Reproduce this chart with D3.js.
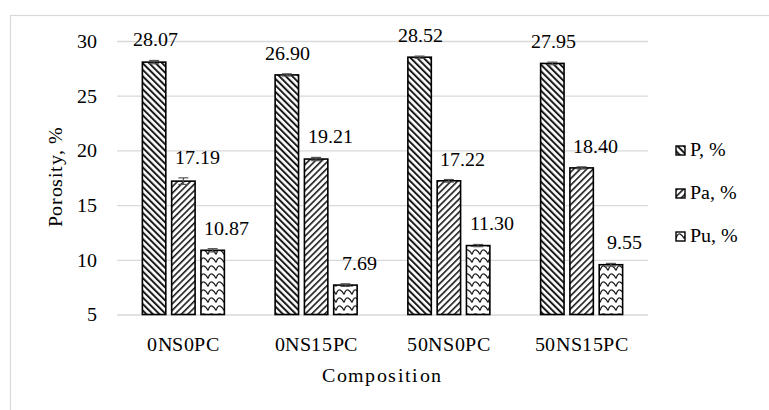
<!DOCTYPE html>
<html><head><meta charset="utf-8">
<script src="https://cdn.jsdelivr.net/npm/d3@7"></script>
<style>
@font-face { font-family: "ChartSerif"; src: local("Liberation Serif"), local("LiberationSerif"), local("LiberationSerif-Regular"), local("Tinos"), local("FreeSerif"); }
</style>
</head><body>
<script>
const categories = ["0NS0PC", "0NS15PC", "50NS0PC", "50NS15PC"];
const seriesNames = ["P, %", "Pa, %", "Pu, %"];
const pValues = [28.07, 26.90, 28.52, 27.95];
const paValues = [17.19, 19.21, 17.22, 18.40];
const puValues = [10.87, 7.69, 11.30, 9.55];
const pErr = [0.15, 0.1, 0.1, 0.12];
const paErr = [0.3, 0.15, 0.12, 0.1];
const puErr = [0.15, 0.12, 0.1, 0.12];
const yTicks = [5, 10, 15, 20, 25, 30];

const W = 769, H = 410;
const FAM = '"ChartSerif", "Liberation Serif", Tinos, FreeSerif, "Times New Roman", serif';
d3.select("body").style("margin", "0px");
const svg = d3.select("body").append("svg").attr("width", W).attr("height", H).style("display", "block")
  .attr("font-family", FAM).style("font-family", FAM);
const defs = svg.append("defs");

// patterns
const p1 = defs.append("pattern").attr("id","patP").attr("patternUnits","userSpaceOnUse")
  .attr("width",4.6).attr("height",10).attr("patternTransform","rotate(-45)");
p1.append("rect").attr("width",4.6).attr("height",10).attr("fill","#fff");
p1.append("rect").attr("x",0).attr("width",2).attr("height",10).attr("fill","#1a1a1a");
const p2 = defs.append("pattern").attr("id","patPa").attr("patternUnits","userSpaceOnUse")
  .attr("width",4.6).attr("height",10).attr("patternTransform","rotate(45)");
p2.append("rect").attr("width",4.6).attr("height",10).attr("fill","#fff");
p2.append("rect").attr("x",0).attr("width",1.6).attr("height",10).attr("fill","#1a1a1a");
const p3 = defs.append("pattern").attr("id","patPu").attr("patternUnits","userSpaceOnUse").attr("width",8).attr("height",8);
p3.append("rect").attr("width",8).attr("height",8).attr("fill","#fff");
p3.append("path").attr("d","M0,6.5 C1.5,2 3,1.5 4,2 C5,2.5 6.5,3 8,6.5").attr("fill","none").attr("stroke","#222").attr("stroke-width",1.3);
const patIds = ["patP","patPa","patPu"];

// chart border
svg.append("rect").attr("x",10.5).attr("y",15.5).attr("width",W).attr("height",H).attr("fill","none").attr("stroke","#d9d9d9").attr("stroke-width",1.2);

const mLeft = 117, mRight = 648, mTop = 41, mBottom = 314.5;
const x0 = d3.scaleBand().domain(categories).range([mLeft, mRight]);
const x1 = d3.scaleBand().domain(seriesNames).range([0, 82]).paddingInner(0.2).paddingOuter(0);
const y = d3.scaleLinear().domain([5, 30]).range([mBottom, mTop]);

function serif(sel) {
  return sel.attr("fill", "#000").attr("font-size", 20).attr("font-family", FAM).style("font-family", FAM);
}

// gridlines
const yAxis = d3.axisLeft(y).tickValues(yTicks).tickSize(-(mRight-mLeft)).tickPadding(20);
const gy = svg.append("g").attr("transform",`translate(${mLeft},0)`).call(yAxis);
gy.attr("font-family", FAM).attr("font-size", 20);
gy.select(".domain").remove();
gy.selectAll(".tick line").attr("stroke","#d9d9d9").attr("stroke-width",1.3);
serif(gy.selectAll(".tick text"));

const xAxis = d3.axisBottom(x0).tickSize(0).tickPadding(22);
const gx = svg.append("g").attr("transform",`translate(0,${mBottom})`).call(xAxis);
gx.attr("font-family", FAM).attr("font-size", 20);
gx.select(".domain").remove();
serif(gx.selectAll(".tick text")).style("letter-spacing", "0.6px");

const allVals = [pValues, paValues, puValues];
const allErr = [pErr, paErr, puErr];
const labelDx = [1, 14, 14];

seriesNames.forEach((s, si) => {
  const g = svg.append("g");
  const data = categories.map((c, ci) => ({c, v: allVals[si][ci], e: allErr[si][ci]}));
  const gOff = d => x0(d.c) + x0.bandwidth()/2 - 41 + x1(s);
  g.selectAll("rect").data(data).join("rect")
    .attr("x", d => gOff(d)).attr("y", d => y(d.v))
    .attr("width", x1.bandwidth()).attr("height", d => mBottom - y(d.v))
    .attr("fill", `url(#${patIds[si]})`).attr("stroke","#000").attr("stroke-width",1.6);
  const eb = g.selectAll("g.eb").data(data).join("g").attr("class","eb");
  eb.append("line").attr("x1", d => gOff(d)+x1.bandwidth()/2).attr("x2", d => gOff(d)+x1.bandwidth()/2)
    .attr("y1", d => y(d.v - d.e)).attr("y2", d => y(d.v + d.e)).attr("stroke","#555").attr("stroke-width",1.2);
  eb.append("line").attr("x1", d => gOff(d)+x1.bandwidth()/2-5).attr("x2", d => gOff(d)+x1.bandwidth()/2+5)
    .attr("y1", d => y(d.v + d.e)).attr("y2", d => y(d.v + d.e)).attr("stroke","#555").attr("stroke-width",1.2);
  eb.append("line").attr("x1", d => gOff(d)+x1.bandwidth()/2-5).attr("x2", d => gOff(d)+x1.bandwidth()/2+5)
    .attr("y1", d => y(d.v - d.e)).attr("y2", d => y(d.v - d.e)).attr("stroke","#555").attr("stroke-width",1.2);
  serif(g.selectAll("text").data(data).join("text")
    .attr("x", d => gOff(d)+x1.bandwidth()/2 + labelDx[si])
    .attr("y", d => y(d.v + d.e) - 14)
    .attr("text-anchor","middle"))
    .text(d => d.v.toFixed(2));
});

// axis titles
serif(svg.append("text").attr("x", (mLeft+mRight)/2).attr("y", 382).attr("text-anchor","middle"))
  .style("letter-spacing", "1.4px").text("Composition");
serif(svg.append("text").attr("transform","translate(62,177) rotate(-90)").attr("text-anchor","middle"))
  .style("letter-spacing", "0.6px").text("Porosity, %");

// legend
const lg = svg.append("g").attr("transform","translate(676,146)");
seriesNames.forEach((s, i) => {
  const row = lg.append("g").attr("transform",`translate(0,${i*43})`);
  row.append("rect").attr("width",9).attr("height",9).attr("fill",`url(#${patIds[i]})`).attr("stroke","#000").attr("stroke-width",1.4);
  serif(row.append("text").attr("x",14).attr("y",10)).text(s);
});
</script>
</body></html>
